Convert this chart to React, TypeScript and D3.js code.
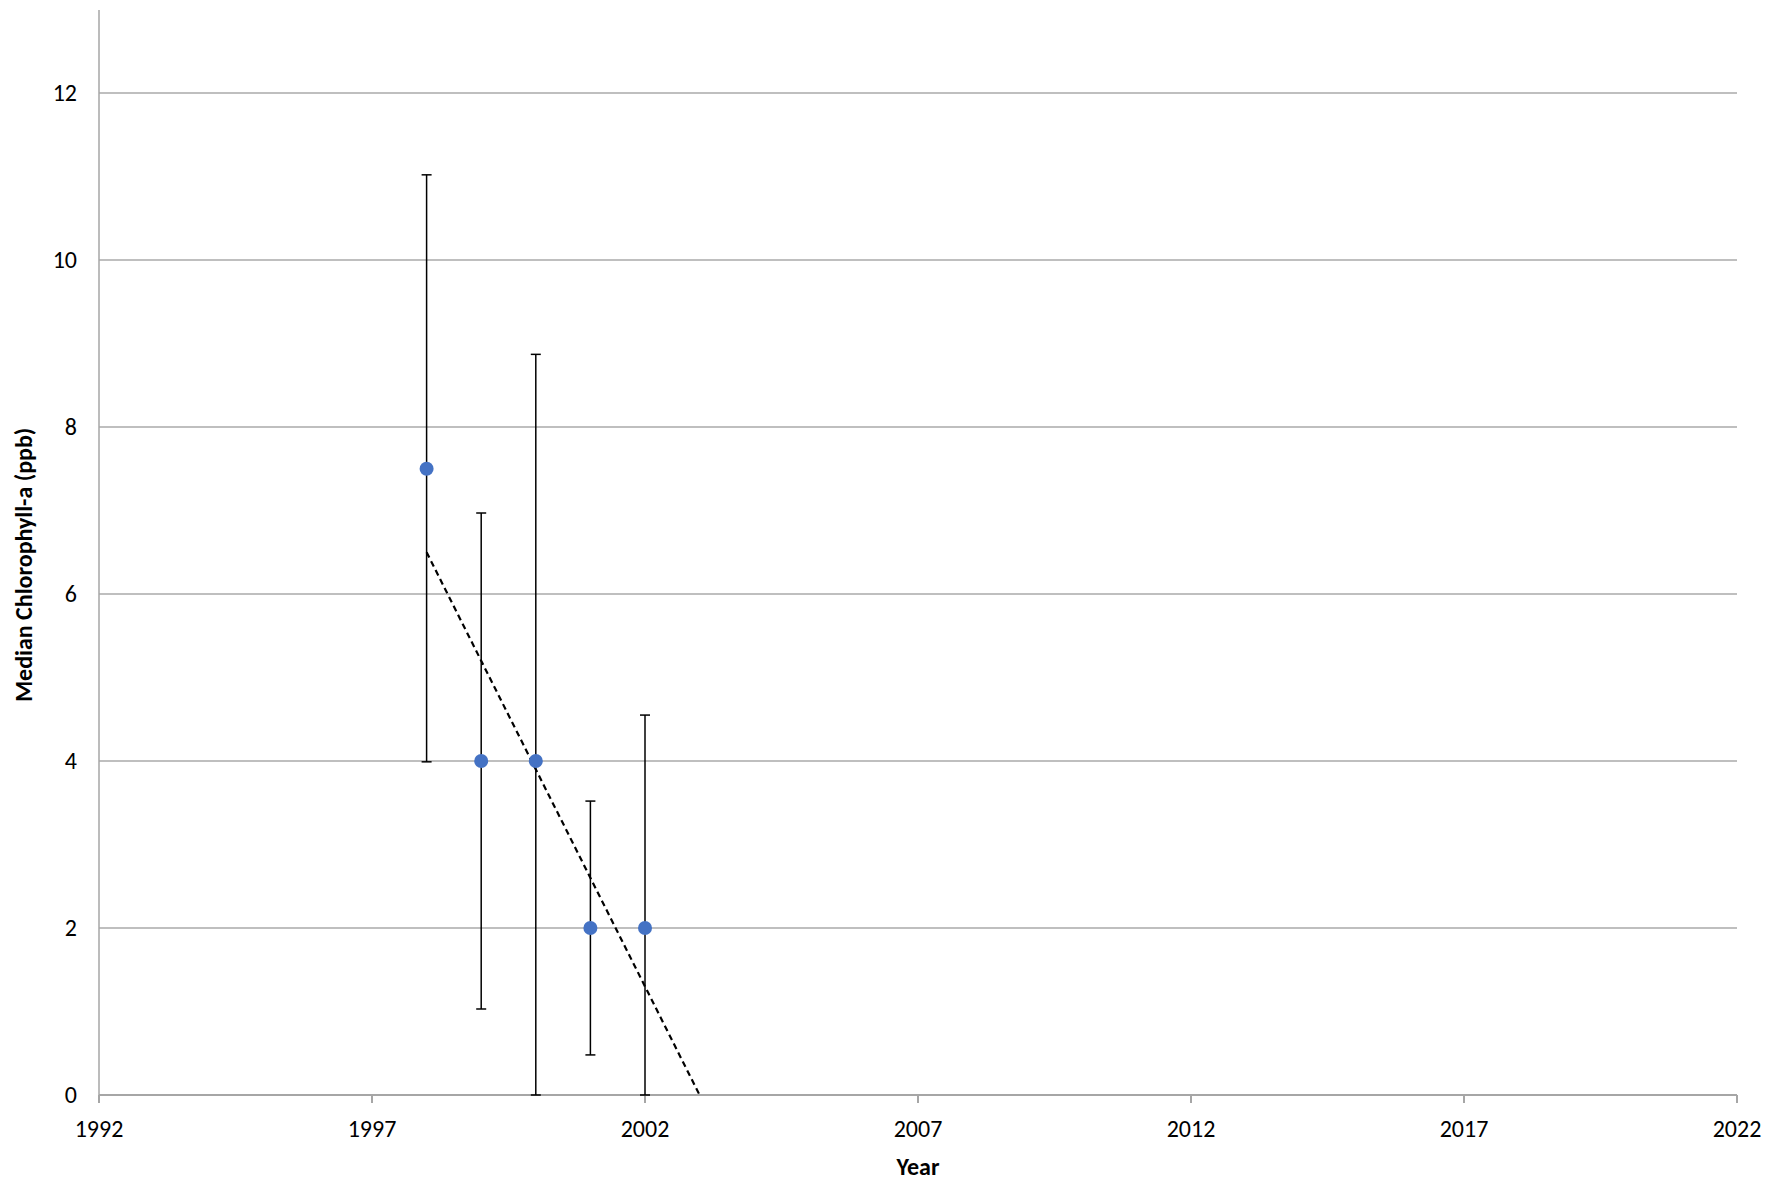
import React from "react";
import * as d3 from "d3";

const years = [1998, 1999, 2000, 2001, 2002];
const medians = [7.5, 4, 4, 2, 2];
const upper = [11.02, 6.97, 8.87, 3.52, 4.55];
const lower = [3.99, 1.03, 0, 0.48, 0];
const xTicks = [1992, 1997, 2002, 2007, 2012, 2017, 2022];
const yTicks = [0, 2, 4, 6, 8, 10, 12];
const trend = [[1998, 6.5], [2003, 0]];

export default function App() {
  const W = 1783, H = 1185;
  const x = d3.scaleLinear().domain([1992, 2022]).range([99, 1737]);
  const y = d3.scaleLinear().domain([0, 12]).range([1095, 93]);
  const font = "Calibri, Carlito, Lato, sans-serif";
  const line = d3.line<number[]>().x(d => x(d[0])).y(d => y(d[1]));
  return (
    <svg width={W} height={H} style={{ display: "block", position: "absolute", left: 0, top: 0 }} fontFamily={font}>
      <rect width={W} height={H} fill="#fff" />
      {yTicks.filter(t => t > 0).map(t => (
        <line key={t} x1={x(1992)} x2={x(2022)} y1={y(t)} y2={y(t)} stroke="#bfbfbf" strokeWidth={2} />
      ))}
      <line x1={x(1992)} x2={x(1992)} y1={10} y2={y(0)} stroke="#a6a6a6" strokeWidth={1.5} />
      <line x1={x(1992)} x2={x(2022)} y1={y(0)} y2={y(0)} stroke="#a6a6a6" strokeWidth={2} />
      {xTicks.map(t => (
        <g key={t}>
          <line x1={x(t)} x2={x(t)} y1={y(0)} y2={y(0) + 8} stroke="#a6a6a6" strokeWidth={2} />
          <text x={x(t)} y={y(0) + 42} textAnchor="middle" fontSize={24} fill="#000">{t}</text>
        </g>
      ))}
      {yTicks.map(t => (
        <text key={t} x={x(1992) - 22} y={y(t) + 8} textAnchor="end" fontSize={24} fill="#000">{t}</text>
      ))}
      {years.map((yr, i) => (
        <g key={yr} stroke="#000" strokeWidth={1.5}>
          <line x1={x(yr)} x2={x(yr)} y1={y(upper[i])} y2={y(lower[i])} />
          <line x1={x(yr) - 5} x2={x(yr) + 5} y1={y(upper[i])} y2={y(upper[i])} />
          <line x1={x(yr) - 5} x2={x(yr) + 5} y1={y(lower[i])} y2={y(lower[i])} />
        </g>
      ))}
      <path d={line(trend) || ""} fill="none" stroke="#000" strokeWidth={2.2} strokeDasharray="6,4" />
      {years.map((yr, i) => (
        <circle key={yr} cx={x(yr)} cy={y(medians[i])} r={7} fill="#4472c4" />
      ))}
      <text x={x(2007)} y={1175} textAnchor="middle" fontSize={24} fontWeight="bold">Year</text>
      <text transform={`translate(32,${y(6.35)}) rotate(-90)`} textAnchor="middle" fontSize={24} fontWeight="bold">Median Chlorophyll-a (ppb)</text>
    </svg>
  );
}
